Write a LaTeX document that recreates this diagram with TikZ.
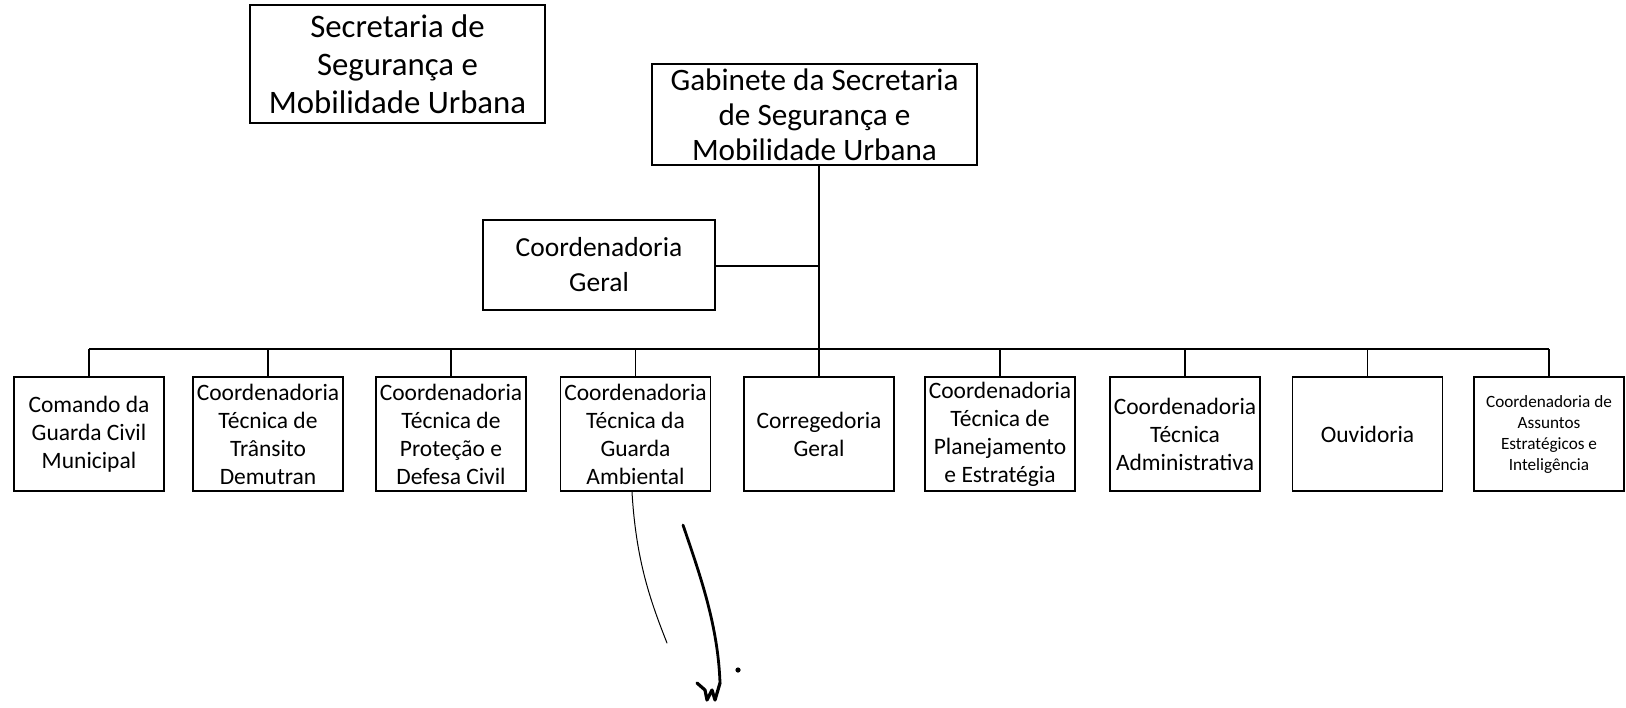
\documentclass[tikz,border=0pt]{standalone}
\usepackage{fontspec}
\setmainfont{Carlito}
\begin{document}
\begin{tikzpicture}[x=0.5pt,y=-0.5pt,
  box/.style={draw=black,line width=0.8pt,align=center,inner xsep=1pt,inner ysep=0pt},
  big/.style={box,font=\fontsize{16.4pt}{19pt}\selectfont},
  gabstyle/.style={box,font=\fontsize{15.6pt}{17.5pt}\selectfont},
  cgstyle/.style={box,font=\fontsize{13.75pt}{17.5pt}\selectfont},
  unit/.style={box,minimum width=75pt,minimum height=57pt,font=\fontsize{11.75pt}{14pt}\selectfont},
  smallunit/.style={unit,font=\fontsize{8.6pt}{10.5pt}\selectfont},
  conn/.style={line width=0.8pt,black},
  scrib/.style={black,line cap=round,line join=round}]
\useasboundingbox (0,0) rectangle (1626,707);

\node[big,minimum width=147.5pt,minimum height=59pt] (sec) at (397.5,64) {Secretaria de\\Segurança e\\Mobilidade Urbana};
\node[gabstyle,minimum width=162.5pt,minimum height=50.5pt] (gab) at (814.5,114.5) {Gabinete da Secretaria\\de Segurança e\\Mobilidade Urbana};
\node[cgstyle,minimum width=116pt,minimum height=45pt] (cg) at (599,265) {Coordenadoria\\Geral};

\node[unit] (u1) at (89,434) {Comando da\\Guarda Civil\\Municipal};
\node[unit] (u2) at (268,434) {Coordenadoria\\Técnica de\\Trânsito\\Demutran};
\node[unit] (u3) at (451,434) {Coordenadoria\\Técnica de\\Proteção e\\Defesa Civil};
\node[unit] (u4) at (635.5,434) {Coordenadoria\\Técnica da\\Guarda\\Ambiental};
\node[unit] (u5) at (819,434) {Corregedoria\\Geral};
\node[unit] (u6) at (1000,434) {Coordenadoria\\Técnica de\\Planejamento\\e Estratégia};
\node[unit] (u7) at (1185,434) {Coordenadoria\\Técnica\\Administrativa};
\node[unit] (u8) at (1367.5,434) {Ouvidoria};
\node[smallunit] (u9) at (1549,434) {Coordenadoria de\\Assuntos\\Estratégicos e\\Inteligência};

\coordinate (bus) at (819,349);
\coordinate (jcg) at (819,266);

\draw[conn] (gab.south -| bus) -- (bus);
\draw[conn] (cg.east |- jcg) -- (jcg);
\draw[conn] (u1.north |- bus) -- (u9.north |- bus);
\foreach \u in {u1,u2,u3,u4,u5,u6,u7,u8,u9}
  \draw[conn] (\u.north |- bus) -- (\u.north);

% handwritten marks
\draw[scrib,line width=0.5pt] (632,492) .. controls (636,560) and (650,600) .. (667,643);
\draw[scrib,line width=1.4pt] (683,525) .. controls (700,575) and (718,625) .. (720,683);
\draw[scrib,line width=1.6pt] (697,683) -- (705,690) -- (707,700) -- (712,690) -- (715,700) -- (720,683);
\fill[black] (738,670) circle (1.3pt);
\end{tikzpicture}
\end{document}
